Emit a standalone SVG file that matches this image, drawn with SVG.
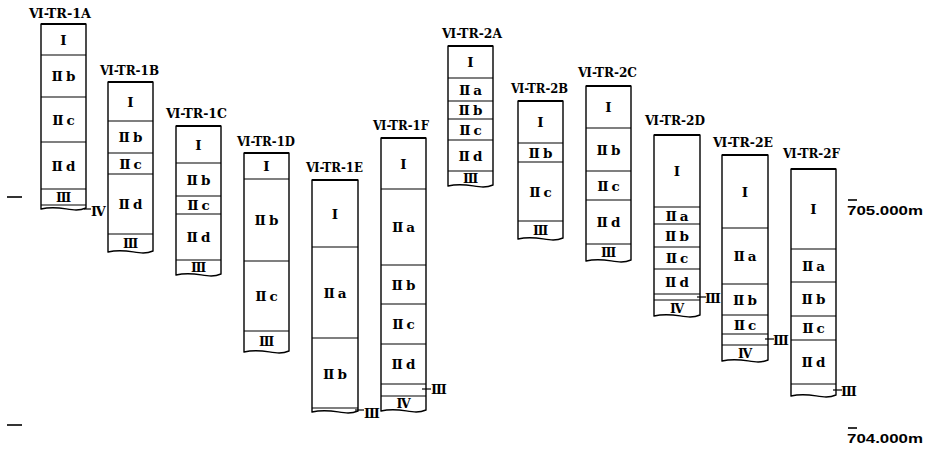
<svg xmlns="http://www.w3.org/2000/svg" width="930" height="450" viewBox="0 0 930 450">
<style>
.box{fill:#fff;stroke:#000;stroke-width:1.4;stroke-linejoin:round}
.top{stroke:#000;stroke-width:2.2}
.ln{stroke:#000;stroke-width:1.2}
.tk{stroke:#000;stroke-width:1.2}
.lay{font-family:"DejaVu Serif","Liberation Serif","Noto Sans CJK JP",serif;font-weight:bold;font-size:13.5px;text-anchor:middle;dominant-baseline:central;fill:#000}
.sm{font-size:12.5px}
.ttl{font-family:"DejaVu Serif","Liberation Serif","Noto Sans CJK JP",serif;font-weight:bold;font-size:13px;dominant-baseline:central;fill:#000}
.mk{font-family:"DejaVu Serif","Liberation Serif","Noto Sans CJK JP",serif;font-weight:bold;font-size:13px;dominant-baseline:central;fill:#000}
.elev{font-family:"Liberation Sans",Arial,sans-serif;font-weight:bold;font-size:13.5px;dominant-baseline:central;fill:#000}
</style>
<rect width="930" height="450" fill="#fff"/>

<g id="scale">
<line x1="7" y1="197" x2="22" y2="197" stroke="#000" stroke-width="1.6"/>
<line x1="7" y1="425" x2="22" y2="425" stroke="#000" stroke-width="1.6"/>
<line x1="848" y1="200" x2="857" y2="200" stroke="#000" stroke-width="1.6"/>
<text class="elev" x="847" y="210" textLength="76" lengthAdjust="spacingAndGlyphs">705.000m</text>
<line x1="848" y1="428" x2="857" y2="428" stroke="#000" stroke-width="1.6"/>
<text class="elev" x="847" y="438" textLength="76" lengthAdjust="spacingAndGlyphs">704.000m</text>
</g>

<g id="connectors"></g>

<g id="TR-1A">
<text class="ttl" x="29" y="13" textLength="62" lengthAdjust="spacingAndGlyphs">Ⅵ-TR-1A</text>
<path class="box" d="M41,209 L41,24 L86,24 L86,208 C72,214 62,204 41,209 Z"/>
<line class="top" x1="41" y1="24" x2="86" y2="24"/>
<line class="ln" x1="41" y1="55" x2="86" y2="55"/>
<line class="ln" x1="41" y1="97" x2="86" y2="97"/>
<line class="ln" x1="41" y1="142" x2="86" y2="142"/>
<line class="ln" x1="41" y1="189" x2="86" y2="189"/>
<line class="ln" x1="41" y1="205" x2="86" y2="205"/>
<text class="lay" x="63.5" y="39.5">Ⅰ</text>
<text class="lay" x="63.5" y="76">Ⅱ<tspan dx="3">b</tspan></text>
<text class="lay" x="63.5" y="119.5">Ⅱ<tspan dx="3">c</tspan></text>
<text class="lay" x="63.5" y="165.5">Ⅱ<tspan dx="3">d</tspan></text>
<text class="lay sm" x="63.5" y="197">Ⅲ</text>
<line class="tk" x1="84" y1="209" x2="91" y2="209"/>
<text class="mk" x="91" y="211">Ⅳ</text>
</g>

<g id="TR-1B">
<text class="ttl" x="100" y="70" textLength="59" lengthAdjust="spacingAndGlyphs">Ⅵ-TR-1B</text>
<path class="box" d="M108,252 L108,82 L153,82 L153,251 C139,257 129,247 108,252 Z"/>
<line class="top" x1="108" y1="82" x2="153" y2="82"/>
<line class="ln" x1="108" y1="121" x2="153" y2="121"/>
<line class="ln" x1="108" y1="153" x2="153" y2="153"/>
<line class="ln" x1="108" y1="174" x2="153" y2="174"/>
<line class="ln" x1="108" y1="234" x2="153" y2="234"/>
<text class="lay" x="130.5" y="101.5">Ⅰ</text>
<text class="lay" x="130.5" y="137">Ⅱ<tspan dx="3">b</tspan></text>
<text class="lay" x="130.5" y="163.5">Ⅱ<tspan dx="3">c</tspan></text>
<text class="lay" x="130.5" y="204">Ⅱ<tspan dx="3">d</tspan></text>
<text class="lay sm" x="130.5" y="243">Ⅲ</text>
</g>

<g id="TR-1C">
<text class="ttl" x="166" y="113" textLength="61" lengthAdjust="spacingAndGlyphs">Ⅵ-TR-1C</text>
<path class="box" d="M176,275 L176,126 L221,126 L221,274 C207,280 197,270 176,275 Z"/>
<line class="top" x1="176" y1="126" x2="221" y2="126"/>
<line class="ln" x1="176" y1="163" x2="221" y2="163"/>
<line class="ln" x1="176" y1="196" x2="221" y2="196"/>
<line class="ln" x1="176" y1="214" x2="221" y2="214"/>
<line class="ln" x1="176" y1="260" x2="221" y2="260"/>
<text class="lay" x="198.5" y="144.5">Ⅰ</text>
<text class="lay" x="198.5" y="179.5">Ⅱ<tspan dx="3">b</tspan></text>
<text class="lay" x="198.5" y="205">Ⅱ<tspan dx="3">c</tspan></text>
<text class="lay" x="198.5" y="237">Ⅱ<tspan dx="3">d</tspan></text>
<text class="lay sm" x="198.5" y="267.5">Ⅲ</text>
</g>

<g id="TR-1D">
<text class="ttl" x="237" y="141" textLength="58" lengthAdjust="spacingAndGlyphs">Ⅵ-TR-1D</text>
<path class="box" d="M244,352 L244,153 L289,153 L289,351 C275,357 265,347 244,352 Z"/>
<line class="top" x1="244" y1="153" x2="289" y2="153"/>
<line class="ln" x1="244" y1="179" x2="289" y2="179"/>
<line class="ln" x1="244" y1="261" x2="289" y2="261"/>
<line class="ln" x1="244" y1="331" x2="289" y2="331"/>
<text class="lay" x="266.5" y="166">Ⅰ</text>
<text class="lay" x="266.5" y="220">Ⅱ<tspan dx="3">b</tspan></text>
<text class="lay" x="266.5" y="296">Ⅱ<tspan dx="3">c</tspan></text>
<text class="lay sm" x="266.5" y="341.5">Ⅲ</text>
</g>

<g id="TR-1E">
<text class="ttl" x="306" y="167" textLength="57" lengthAdjust="spacingAndGlyphs">Ⅵ-TR-1E</text>
<path class="box" d="M312,412 L312,180 L358,180 L358,411 C344,417 334,407 312,412 Z"/>
<line class="top" x1="312" y1="180" x2="358" y2="180"/>
<line class="ln" x1="312" y1="247" x2="358" y2="247"/>
<line class="ln" x1="312" y1="338" x2="358" y2="338"/>
<line class="ln" x1="312" y1="408" x2="358" y2="408"/>
<text class="lay" x="335" y="213.5">Ⅰ</text>
<text class="lay" x="335" y="292.5">Ⅱ<tspan dx="3">a</tspan></text>
<text class="lay" x="335" y="373.5">Ⅱ<tspan dx="3">b</tspan></text>
<line class="tk" x1="355" y1="410" x2="364" y2="410"/>
<text class="mk" x="364" y="413">Ⅲ</text>
</g>

<g id="TR-1F">
<text class="ttl" x="373" y="125" textLength="56" lengthAdjust="spacingAndGlyphs">Ⅵ-TR-1F</text>
<path class="box" d="M381,411 L381,138 L426,138 L426,410 C412,416 402,406 381,411 Z"/>
<line class="top" x1="381" y1="138" x2="426" y2="138"/>
<line class="ln" x1="381" y1="189" x2="426" y2="189"/>
<line class="ln" x1="381" y1="265" x2="426" y2="265"/>
<line class="ln" x1="381" y1="304" x2="426" y2="304"/>
<line class="ln" x1="381" y1="344" x2="426" y2="344"/>
<line class="ln" x1="381" y1="384" x2="426" y2="384"/>
<line class="ln" x1="381" y1="396" x2="426" y2="396"/>
<text class="lay" x="403.5" y="163.5">Ⅰ</text>
<text class="lay" x="403.5" y="227">Ⅱ<tspan dx="3">a</tspan></text>
<text class="lay" x="403.5" y="284.5">Ⅱ<tspan dx="3">b</tspan></text>
<text class="lay" x="403.5" y="324">Ⅱ<tspan dx="3">c</tspan></text>
<text class="lay" x="403.5" y="364">Ⅱ<tspan dx="3">d</tspan></text>
<text class="lay sm" x="403.5" y="403">Ⅳ</text>
<line class="tk" x1="422" y1="389" x2="431" y2="389"/>
<text class="mk" x="431" y="389">Ⅲ</text>
</g>

<g id="TR-2A">
<text class="ttl" x="442" y="33" textLength="60" lengthAdjust="spacingAndGlyphs">Ⅵ-TR-2A</text>
<path class="box" d="M448,186 L448,46 L493,46 L493,185 C479,191 469,181 448,186 Z"/>
<line class="top" x1="448" y1="46" x2="493" y2="46"/>
<line class="ln" x1="448" y1="78" x2="493" y2="78"/>
<line class="ln" x1="448" y1="101" x2="493" y2="101"/>
<line class="ln" x1="448" y1="119" x2="493" y2="119"/>
<line class="ln" x1="448" y1="140" x2="493" y2="140"/>
<line class="ln" x1="448" y1="171" x2="493" y2="171"/>
<text class="lay" x="470.5" y="62">Ⅰ</text>
<text class="lay" x="470.5" y="89.5">Ⅱ<tspan dx="3">a</tspan></text>
<text class="lay" x="470.5" y="110">Ⅱ<tspan dx="3">b</tspan></text>
<text class="lay" x="470.5" y="129.5">Ⅱ<tspan dx="3">c</tspan></text>
<text class="lay" x="470.5" y="155.5">Ⅱ<tspan dx="3">d</tspan></text>
<text class="lay sm" x="470.5" y="178">Ⅲ</text>
</g>

<g id="TR-2B">
<text class="ttl" x="511" y="88" textLength="57" lengthAdjust="spacingAndGlyphs">Ⅵ-TR-2B</text>
<path class="box" d="M518,239 L518,101 L563,101 L563,238 C549,244 539,234 518,239 Z"/>
<line class="top" x1="518" y1="101" x2="563" y2="101"/>
<line class="ln" x1="518" y1="143" x2="563" y2="143"/>
<line class="ln" x1="518" y1="162" x2="563" y2="162"/>
<line class="ln" x1="518" y1="221" x2="563" y2="221"/>
<text class="lay" x="540.5" y="122">Ⅰ</text>
<text class="lay" x="540.5" y="152.5">Ⅱ<tspan dx="3">b</tspan></text>
<text class="lay" x="540.5" y="191.5">Ⅱ<tspan dx="3">c</tspan></text>
<text class="lay sm" x="540.5" y="230">Ⅲ</text>
</g>

<g id="TR-2C">
<text class="ttl" x="578" y="72" textLength="59" lengthAdjust="spacingAndGlyphs">Ⅵ-TR-2C</text>
<path class="box" d="M586,261 L586,86 L631,86 L631,260 C617,266 607,256 586,261 Z"/>
<line class="top" x1="586" y1="86" x2="631" y2="86"/>
<line class="ln" x1="586" y1="128" x2="631" y2="128"/>
<line class="ln" x1="586" y1="171" x2="631" y2="171"/>
<line class="ln" x1="586" y1="200" x2="631" y2="200"/>
<line class="ln" x1="586" y1="244" x2="631" y2="244"/>
<text class="lay" x="608.5" y="107">Ⅰ</text>
<text class="lay" x="608.5" y="149.5">Ⅱ<tspan dx="3">b</tspan></text>
<text class="lay" x="608.5" y="185.5">Ⅱ<tspan dx="3">c</tspan></text>
<text class="lay" x="608.5" y="222">Ⅱ<tspan dx="3">d</tspan></text>
<text class="lay sm" x="608.5" y="252.5">Ⅲ</text>
</g>

<g id="TR-2D">
<text class="ttl" x="645" y="120" textLength="60" lengthAdjust="spacingAndGlyphs">Ⅵ-TR-2D</text>
<path class="box" d="M654,316 L654,135 L700,135 L700,315 C686,321 676,311 654,316 Z"/>
<line class="top" x1="654" y1="135" x2="700" y2="135"/>
<line class="ln" x1="654" y1="207" x2="700" y2="207"/>
<line class="ln" x1="654" y1="224" x2="700" y2="224"/>
<line class="ln" x1="654" y1="247" x2="700" y2="247"/>
<line class="ln" x1="654" y1="269" x2="700" y2="269"/>
<line class="ln" x1="654" y1="294" x2="700" y2="294"/>
<line class="ln" x1="654" y1="300" x2="700" y2="300"/>
<text class="lay" x="677" y="171">Ⅰ</text>
<text class="lay" x="677" y="215.5">Ⅱ<tspan dx="3">a</tspan></text>
<text class="lay" x="677" y="235.5">Ⅱ<tspan dx="3">b</tspan></text>
<text class="lay" x="677" y="258">Ⅱ<tspan dx="3">c</tspan></text>
<text class="lay" x="677" y="281.5">Ⅱ<tspan dx="3">d</tspan></text>
<text class="lay sm" x="677" y="308">Ⅳ</text>
<line class="tk" x1="697" y1="297" x2="706" y2="297"/>
<text class="mk" x="705" y="298">Ⅲ</text>
</g>

<g id="TR-2E">
<text class="ttl" x="713" y="142" textLength="60" lengthAdjust="spacingAndGlyphs">Ⅵ-TR-2E</text>
<path class="box" d="M722,361 L722,155 L768,155 L768,360 C754,366 744,356 722,361 Z"/>
<line class="top" x1="722" y1="155" x2="768" y2="155"/>
<line class="ln" x1="722" y1="228" x2="768" y2="228"/>
<line class="ln" x1="722" y1="284" x2="768" y2="284"/>
<line class="ln" x1="722" y1="315" x2="768" y2="315"/>
<line class="ln" x1="722" y1="334" x2="768" y2="334"/>
<line class="ln" x1="722" y1="345" x2="768" y2="345"/>
<text class="lay" x="745" y="191.5">Ⅰ</text>
<text class="lay" x="745" y="256">Ⅱ<tspan dx="3">a</tspan></text>
<text class="lay" x="745" y="299.5">Ⅱ<tspan dx="3">b</tspan></text>
<text class="lay" x="745" y="324.5">Ⅱ<tspan dx="3">c</tspan></text>
<text class="lay sm" x="745" y="353">Ⅳ</text>
<line class="tk" x1="765" y1="339" x2="774" y2="339"/>
<text class="mk" x="773" y="340">Ⅲ</text>
</g>

<g id="TR-2F">
<text class="ttl" x="783" y="153" textLength="57" lengthAdjust="spacingAndGlyphs">Ⅵ-TR-2F</text>
<path class="box" d="M791,396 L791,169 L836,169 L836,395 C822,401 812,391 791,396 Z"/>
<line class="top" x1="791" y1="169" x2="836" y2="169"/>
<line class="ln" x1="791" y1="249" x2="836" y2="249"/>
<line class="ln" x1="791" y1="282" x2="836" y2="282"/>
<line class="ln" x1="791" y1="316" x2="836" y2="316"/>
<line class="ln" x1="791" y1="340" x2="836" y2="340"/>
<line class="ln" x1="791" y1="384" x2="836" y2="384"/>
<text class="lay" x="813.5" y="209">Ⅰ</text>
<text class="lay" x="813.5" y="265.5">Ⅱ<tspan dx="3">a</tspan></text>
<text class="lay" x="813.5" y="299">Ⅱ<tspan dx="3">b</tspan></text>
<text class="lay" x="813.5" y="328">Ⅱ<tspan dx="3">c</tspan></text>
<text class="lay" x="813.5" y="362">Ⅱ<tspan dx="3">d</tspan></text>
<line class="tk" x1="833" y1="390" x2="842" y2="390"/>
<text class="mk" x="841" y="391">Ⅲ</text>
</g>
</svg>
